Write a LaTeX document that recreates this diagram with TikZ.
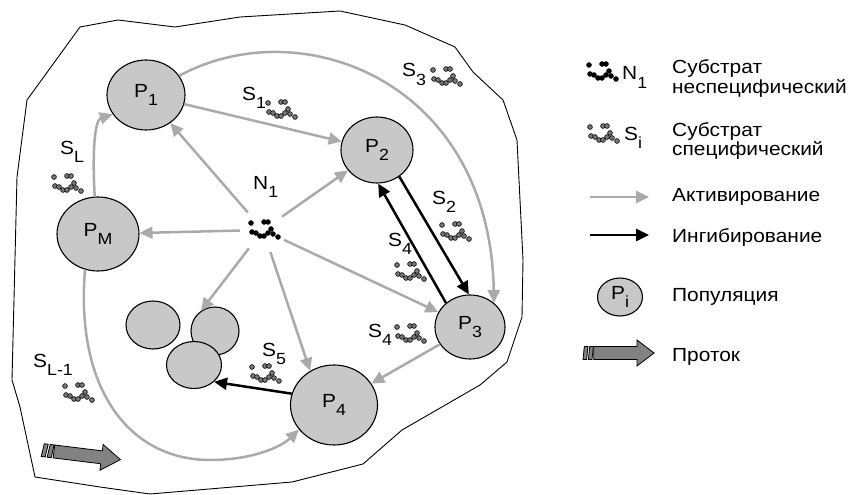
\documentclass[tikz,border=0pt]{standalone}
\usepackage{fontspec}
\setmainfont{Liberation Sans}[FakeStretch=1.1]
\usetikzlibrary{arrows.meta,shapes.geometric}
\definecolor{popfill}{RGB}{200,200,200}
\definecolor{actgray}{RGB}{170,170,170}
\definecolor{flowfill}{RGB}{130,130,130}
\definecolor{molgray}{RGB}{120,120,120}
\newcommand\subidx[1]{\raisebox{-0.8ex}{\scalebox{0.85}{#1}}}
\newcommand\twolines[2]{\vtop{\baselineskip=17pt\hbox{#1}\hbox{#2}}}
\tikzset{
  lbl/.style={inner sep=0pt, font=\fontsize{19}{19}\selectfont},
  pop/.style={ellipse, draw=black, line width=1.1pt, fill=popfill, inner sep=0pt,
    font=\fontsize{19}{19}\selectfont},
  act/.style={draw=actgray, line width=2.5pt, -{Triangle[length=13pt,width=12pt]}},
  inh/.style={draw=black, line width=2.5pt, -{Triangle[length=13pt,width=12pt]}},
  mol/.pic={
    \foreach \mx/\my in {0/0, 13/-1, 17/-1, 1/9, 5/10, 9/13, 13/13, 17/10, 20/6, 22/11, 27/14}
      \filldraw[fill=#1, draw=black, line width=0.6pt] (\mx,\my) circle[radius=2.4];
  },
  flowarrow/.pic={
    \filldraw[fill=flowfill, draw=black, line width=0.8pt]
      (12,-6.5) -- (60,-6.5) -- (60,-13) -- (79,0) -- (60,13) -- (60,6.5) -- (12,6.5) -- cycle;
    \filldraw[fill=flowfill, draw=black, line width=0.8pt]
      (1.5,-6.5) -- (5.5,-6.5) -- (4,6.5) -- (0,6.5) -- cycle;
    \filldraw[fill=flowfill, draw=black, line width=0.8pt]
      (7.5,-6.5) -- (11.5,-6.5) -- (10,6.5) -- (6,6.5) -- cycle;
  }
}
\begin{document}
\begin{tikzpicture}[x=1pt,y=-1pt]
\useasboundingbox (0,0) rectangle (852,495);

% habitat boundary
\draw[line width=0.9pt, line join=round]
  (80,27) -- (118,20) -- (175,27) -- (240,17) -- (340,11) -- (405,25) -- (455,47)
  -- (473,72) -- (503,100) -- (517,140) -- (523,260) -- (522,317) -- (507,362)
  -- (480,385) -- (402,430) -- (363,464) -- (292,482) -- (150,494) -- (100,487)
  -- (35,477) -- (20,407) -- (12,380) -- (17,177) -- (27,100) -- cycle;

% populations
\node[pop, minimum width=78pt, minimum height=70pt] (p1) at (146,95) {P\subidx{1}};
\node[pop, minimum width=72pt, minimum height=66pt] (p2) at (377,150) {P\subidx{2}};
\node[pop, minimum width=70pt, minimum height=64pt] (p3) at (470,327) {P\subidx{3}};
\node[pop, minimum width=87pt, minimum height=80pt] (p4) at (334,405) {P\subidx{4}};
\node[pop, minimum width=82pt, minimum height=74pt] (pm) at (98,234) {P\subidx{M}};
\node[pop, minimum width=54pt, minimum height=48pt] (ca) at (153,325) {};
\node[pop, minimum width=48pt, minimum height=48pt] (cb) at (215,331) {};
\node[pop, minimum width=55pt, minimum height=47pt] (cc) at (194,365) {};

% nonspecific substrate N1
\node[circle, minimum size=46pt, inner sep=0pt] (n1) at (263,230) {};
\pic at (251,223) {mol=black};
\node[lbl, anchor=base west] (n1lbl) at (253,189) {N\subidx{1}};

% activation by N1
\draw[act] (n1) -- (p1);
\draw[act] (n1) -- (p2);
\draw[act] (n1) -- (pm);
\draw[act] (n1) -- (p3);
\draw[act] (n1) -- (p4.125);
\draw[act] (n1) -- (cb.125);

% activation between populations
\draw[act] (p1) -- (p2);
\draw[act] (p1.30) .. controls (300,10) and (490,80) .. (p3.45);
\draw[act] (pm.95) .. controls (92,150) and (95,120) .. (p1.210);
\draw[act] (pm.250) .. controls (75,390) and (130,460) .. (210,460)
  .. controls (250,460) and (280,448) .. (p4.215);
\draw[act] (p3) -- (p4);

% inhibition
\draw[inh] (p2.-50) -- (p3.92);
\draw[inh] (p3.135) -- (p2.-88);
\draw[inh] (p4.165) -- (cc.-40);

% specific substrates
\node[lbl, anchor=base west] (s1) at (242,100) {S\subidx{1}};
\pic at (268,103) {mol=molgray};
\node[lbl, anchor=base west] (s2) at (432,204) {S\subidx{2}};
\pic at (442,225) {mol=molgray};
\node[lbl, anchor=base west] (s3) at (402,77) {S\subidx{3}};
\pic at (433,70) {mol=molgray};
\node[lbl, anchor=base west] (s4a) at (388,246) {S\subidx{4}};
\pic at (397,265) {mol=molgray};
\node[lbl, anchor=base west] (s4b) at (368,337) {S\subidx{4}};
\pic at (397,327) {mol=molgray};
\node[lbl, anchor=base west] (s5) at (262,356) {S\subidx{5}};
\pic at (252,367) {mol=molgray};
\node[lbl, anchor=base west] (sl) at (60,154) {S\subidx{L}};
\pic at (54,177) {mol=molgray};
\node[lbl, anchor=base west] (sl1) at (33,367) {S\subidx{L-1}};
\pic at (65,386) {mol=molgray};

% flow
\pic[rotate=-7] at (42,450) {flowarrow};

% legend
\pic at (589,65) {mol=black};
\node[lbl, anchor=base west] (lgn) at (622,80) {N\subidx{1}};
\node[lbl, anchor=base west] (lgn1) at (672,74) {\twolines{Субстрат}{неспецифический}};
\pic at (590,127) {mol=molgray};
\node[lbl, anchor=base west] (lgs) at (624,140) {S\subidx{i}};
\node[lbl, anchor=base west] (lgs1) at (672,136) {\twolines{Субстрат}{специфический}};
\coordinate (la0) at (590,197);
\coordinate (la1) at (649,197);
\draw[act] (la0) -- (la1);
\node[lbl, anchor=base west] (lga) at (672,201) {Активирование};
\coordinate (li0) at (590,235);
\coordinate (li1) at (649,235);
\draw[inh] (li0) -- (li1);
\node[lbl, anchor=base west] (lgi) at (672,242) {Ингибирование};
\node[pop, minimum width=45pt, minimum height=38pt] (lgp) at (620,297) {P\subidx{i}};
\node[lbl, anchor=base west] (lgpt) at (672,301) {Популяция};
\pic[xscale=0.9] at (583,353) {flowarrow};
\node[lbl, anchor=base west] (lgf) at (672,361) {Проток};
\end{tikzpicture}
\end{document}
